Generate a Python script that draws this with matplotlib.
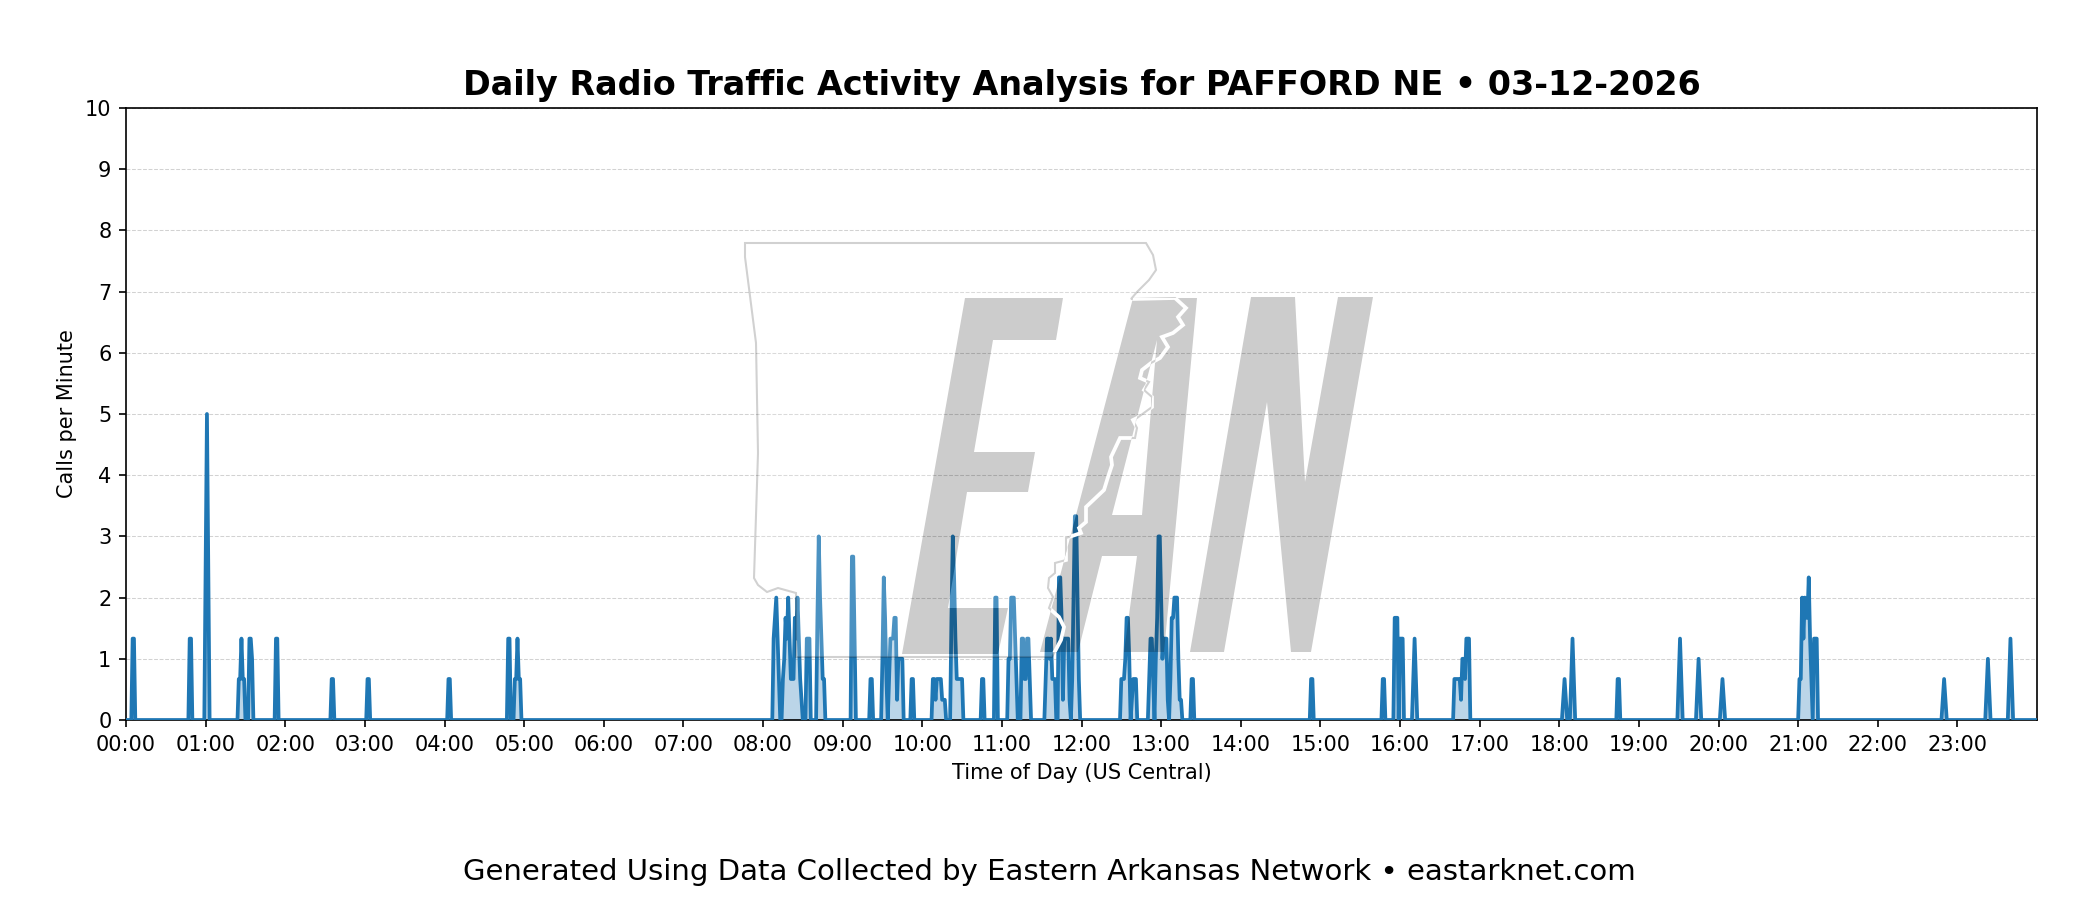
import numpy as np
import matplotlib
matplotlib.use("Agg")
import matplotlib.pyplot as plt
from matplotlib.patches import PathPatch
from matplotlib.path import Path
from matplotlib.transforms import Affine2D

# Minutes of the day that had traffic, and calls per minute at those minutes
morning_minutes = [5, 6, 48, 49, 60, 61, 62, 85, 86, 87, 88, 89, 93, 94, 95, 113, 114, 155, 156,
                   182, 183, 243, 244, 288, 289, 293, 294, 295, 296, 297]
morning_calls = [1.33, 1.33, 1.33, 1.33, 2.5, 5, 2.5, 0.67, 0.67, 1.33, 0.67, 0.67, 1.33, 1.33, 1.0,
                 1.33, 1.33, 0.67, 0.67, 0.67, 0.67, 0.67, 0.67, 1.33, 1.33, 0.67, 0.67,
                 1.33, 0.67, 0.67]

busy_minutes = [488, 489, 490, 491, 492, 495, 496, 497, 498, 499, 500, 501, 502, 503, 504,
                505, 506, 507, 508, 509, 513, 514, 515, 521, 522, 523, 524, 525, 526,
                547, 548, 549, 561, 562, 570, 571, 572, 573, 575, 576, 577, 578, 579, 580,
                581, 582, 583, 584, 585, 592, 593, 608, 609, 610, 611, 612, 613, 614, 615,
                616, 617, 622, 623, 624, 625, 626, 627, 628, 629, 630, 645, 646, 655, 656,
                665, 666, 667, 668, 669, 670, 671, 675, 676, 677, 678, 679, 680, 681,
                693, 694, 695, 696, 697, 698, 699, 700, 703, 704, 705, 706, 707, 708, 709,
                710, 711, 713, 714, 715, 716, 717, 718]
busy_calls = [1.33, 1.67, 2, 1.33, 0.67, 0.67, 1, 1.67, 1.33, 2, 1.33, 0.67, 0.67, 0.67, 1.67,
              1.33, 2, 1.33, 0.67, 0.33, 1.33, 1.33, 1.33, 1.67, 3, 2, 1.33, 0.67, 0.67,
              2.67, 2.67, 1.33, 0.67, 0.67, 1, 2.33, 1.67, 0.67, 0.67, 1.33, 1.33, 1.33, 1.67, 1.67,
              0.33, 1, 1, 1, 1, 0.67, 0.67, 0.67, 0.67, 0.33, 0.67, 0.67, 0.67, 0.67, 0.33,
              0.33, 0.33, 1.67, 3, 2.33, 1.33, 0.67, 0.67, 0.67, 0.67, 0.67, 0.67, 0.67, 2, 2,
              1, 1, 2, 2, 2, 1.33, 0.67, 1.33, 1.33, 0.67, 0.67, 1.33, 1.33, 0.67,
              0.67, 1.33, 1.33, 1, 1.33, 0.67, 0.67, 0.67, 2.33, 2.33, 1.67, 0.33, 1.33, 1.33, 1.33,
              1.33, 0.33, 0.67, 2, 3.33, 3.33, 2, 0.67]

midday_minutes = [750, 751, 752, 753, 754, 755, 756, 758, 759, 760, 761,
                  771, 772, 773, 774, 776, 777, 778, 779, 780, 781, 782, 783, 784, 785,
                  787, 788, 789, 790, 791, 792, 793, 794, 795, 803, 804]
midday_calls = [0.67, 0.67, 0.67, 1, 1.67, 1.67, 1, 0.33, 0.67, 0.67, 0.67,
                0.67, 1.33, 1.33, 0.67, 1, 1.67, 3, 3, 2, 1, 1.33, 1.33, 1.33, 0.33,
                0.67, 1.67, 1.67, 2, 2, 2, 1, 0.33, 0.33, 0.67, 0.67]

evening_minutes = [893, 894, 947, 948, 956, 957, 958, 960, 961, 962, 970, 971, 972,
                   1001, 1002, 1003, 1004, 1005, 1006, 1007, 1008, 1009, 1010, 1011, 1012,
                   1083, 1084, 1085, 1089, 1090, 1091, 1124, 1125, 1170, 1171, 1172,
                   1184, 1185, 1186, 1202, 1203, 1204,
                   1261, 1262, 1263, 1264, 1265, 1266, 1267, 1268, 1269, 1270,
                   1272, 1273, 1274, 1369, 1370, 1371, 1402, 1403, 1404, 1419, 1420, 1421]
evening_calls = [0.67, 0.67, 0.67, 0.67, 1.67, 1.67, 1.67, 1.33, 1.33, 1.33, 0.67, 1.33, 0.67,
                 0.67, 0.67, 0.67, 0.67, 0.67, 0.33, 1, 1, 0.67, 1.33, 1.33, 1.33,
                 0.33, 0.67, 0.33, 0.67, 1.33, 0.67, 0.67, 0.67, 0.67, 1.33, 0.67,
                 0.5, 1, 0.5, 0.33, 0.67, 0.33,
                 0.67, 0.67, 2, 1.33, 2, 1.67, 1.67, 2.33, 1.33, 0.67,
                 1.33, 1.33, 1.33, 0.33, 0.67, 0.33, 0.5, 1, 0.5, 0.67, 1.33, 0.67]

hour_labels = ["%02d:00" % h for h in range(24)]
y_ticks = list(range(0, 11))

# Watermark outlines, in pixels of the 2100x900 picture
arkansas = [(745, 243), (1146, 243), (1153, 255), (1156, 270), (1149, 280), (1137, 292), (1131, 299),
            (1175, 298), (1186, 308), (1178, 317), (1183, 325), (1173, 333), (1162, 337), (1168, 347),
            (1160, 358), (1151, 363), (1142, 370), (1140, 378), (1149, 382), (1144, 390), (1152, 397),
            (1152, 407), (1137, 418), (1133, 420), (1137, 428), (1135, 438), (1120, 438), (1111, 457),
            (1112, 465), (1108, 477), (1104, 490), (1086, 507), (1086, 522), (1079, 528), (1081, 533),
            (1066, 538), (1066, 560), (1055, 563), (1055, 573), (1049, 578), (1048, 588), (1053, 597),
            (1049, 608), (1059, 617), (1064, 627), (1061, 640), (1052, 657), (796, 657), (796, 593),
            (778, 588), (767, 592), (758, 585), (754, 578), (758, 453), (756, 343), (745, 257)]
letter_e = [(965, 298), (1063, 298), (1056, 340), (993, 340), (974, 452), (1035, 452), (1028, 492),
            (967, 492), (948, 608), (1008, 608), (998, 654), (902, 654)]
letter_a = [(1133, 298), (1197, 298), (1164, 652), (1124, 652), (1137, 556), (1102, 556), (1078, 652), (1040, 652)]
letter_a_hole = [(1157, 340), (1142, 515), (1112, 515)]
letter_n = [(1251, 297), (1295, 297), (1305, 482), (1338, 297), (1373, 297), (1311, 652), (1291, 652),
            (1267, 402), (1224, 652), (1190, 652)]


def ring(points, clockwise=True):
    # closed outline with a known winding, so that holes cancel out
    pts = np.array(points, dtype=float)
    area = np.sum(pts[:, 0] * np.roll(pts[:, 1], -1) - np.roll(pts[:, 0], -1) * pts[:, 1])
    if (area > 0) != clockwise:
        pts = pts[::-1]
    verts = np.vstack([pts, pts[0]])
    codes = [Path.MOVETO] + [Path.LINETO] * (len(pts) - 1) + [Path.CLOSEPOLY]
    return Path(verts, codes)


calls_per_minute = np.zeros(1440)
calls_per_minute[morning_minutes] = morning_calls
calls_per_minute[busy_minutes] = busy_calls
calls_per_minute[midday_minutes] = midday_calls
calls_per_minute[evening_minutes] = evening_calls
minutes = np.arange(1440)

fig = plt.figure(figsize=(14, 6), dpi=150)
ax = fig.add_axes([126 / 2100, 180 / 900, 1911 / 2100, 612 / 900])

ax.plot(minutes, calls_per_minute, color="#1f77b4", linewidth=1.8, zorder=3)
ax.fill_between(minutes, calls_per_minute, 0, color="#1f77b4", alpha=0.3, linewidth=0, zorder=2)

ax.set_xlim(0, 1440)
ax.set_ylim(0, 10)
ax.set_xticks(np.arange(24) * 60)
ax.set_xticklabels(hour_labels, fontsize=10)
ax.set_yticks(y_ticks)
ax.tick_params(axis="y", labelsize=10)
ax.grid(axis="y", linestyle="--", color="gray", alpha=0.35, linewidth=0.5)
ax.set_axisbelow(True)
ax.set_xlabel("Time of Day (US Central)", fontsize=10)
ax.set_ylabel("Calls per Minute", fontsize=10)
ax.set_title("Daily Radio Traffic Activity Analysis for PAFFORD NE \u2022 03-12-2026",
             fontsize=16, fontweight="bold", pad=6)

fig.text(0.4995, 1 - 872 / 900, "Generated Using Data Collected by Eastern Arkansas Network \u2022 eastarknet.com",
         fontsize=14, ha="center", va="center")

# Watermark sits on top of the data, lightening or darkening what is under it
px = Affine2D().scale(1 / 2100, -1 / 900).translate(0, 1) + fig.transFigure
state = ring(arkansas)
letters = Path.make_compound_path(ring(letter_e), ring(letter_a), ring(letter_a_hole, False), ring(letter_n))
cutout = Path.make_compound_path(ring(arkansas), ring(letter_e, False), ring(letter_a, False),
                                 ring(letter_a_hole, True))

fill = PathPatch(cutout, facecolor="white", edgecolor="none", alpha=0.2, transform=px, zorder=5)
ax.add_patch(fill)
fill.set_clip_path(state, px)
ax.add_patch(PathPatch(state, facecolor="none", edgecolor="black", alpha=0.18, linewidth=1.0,
                       transform=px, zorder=5.5))
ax.add_patch(PathPatch(letters, facecolor="black", edgecolor="none", alpha=0.2, transform=px, zorder=6))
river = PathPatch(state, facecolor="none", edgecolor="white", alpha=1.0, linewidth=1.8,
                  transform=px, zorder=7)
ax.add_patch(river)
river.set_clip_path(letters, px)

fig.savefig("out.png", dpi=150)
